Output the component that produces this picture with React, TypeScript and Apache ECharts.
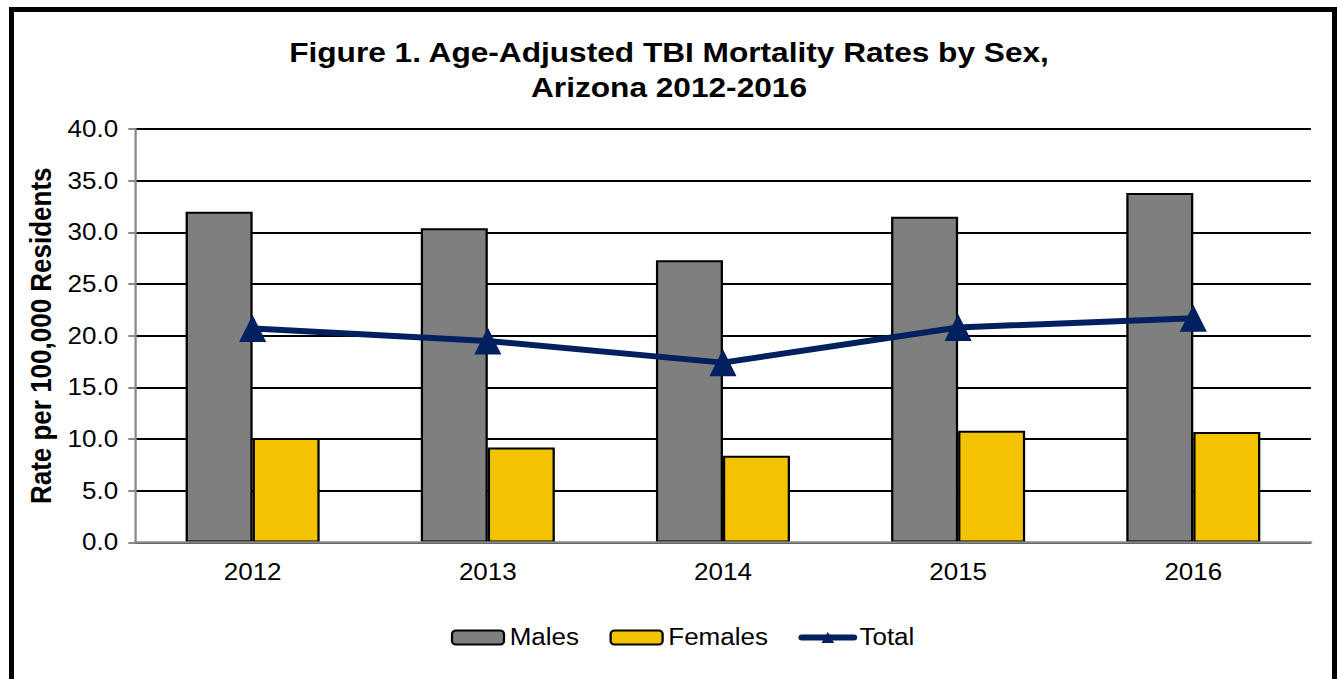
import React, { useEffect, useRef } from "react";
import * as echarts from "echarts";

const years = ["2012", "2013", "2014", "2015", "2016"];
const males = [32.0, 30.4, 27.3, 31.5, 33.8];
const females = [10.1, 9.2, 8.4, 10.8, 10.7];
const total = [20.7, 19.5, 17.4, 20.8, 21.7];

const titleText = "Figure 1. Age-Adjusted TBI Mortality Rates by Sex,\nArizona 2012-2016";
const yAxisName = "Rate per 100,000 Residents";

const BASE_W = 1184;
const H = 679;
const SX = 1338 / BASE_W;
const FONT = "'Liberation Sans', Arial, Helvetica, sans-serif";

export default function App() {
  const ref = useRef<HTMLDivElement>(null);

  useEffect(() => {
    if (!ref.current) return;
    const chart = echarts.init(ref.current, undefined, {
      renderer: "svg",
      width: BASE_W,
      height: H,
    });
    chart.setOption({
      animation: false,
      textStyle: { fontFamily: FONT },
      title: {
        text: titleText,
        left: "center",
        top: 35,
        padding: 0,
        textStyle: {
          fontFamily: FONT,
          fontSize: 28,
          fontWeight: "bold",
          color: "#000",
          lineHeight: 35,
        },
      },
      legend: {
        left: 399,
        top: 626,
        padding: 0,
        itemWidth: 46,
        itemHeight: 14,
        itemGap: 27,
        textStyle: { fontFamily: FONT, fontSize: 23, color: "#000" },
        data: [
          { name: "Males" },
          { name: "Females" },
          { name: "Total", lineStyle: { width: 6, color: "#002060", cap: "round" } },
        ],
      },
      grid: { left: 119.5, right: 24, top: 129, bottom: 136.5, containLabel: false },
      xAxis: {
        type: "category",
        data: years,
        axisLine: { show: true, lineStyle: { color: "#898989", width: 2.5 } },
        axisTick: { show: false },
        axisLabel: { fontFamily: FONT, fontSize: 23, color: "#000", margin: 18 },
        z: 5,
      },
      yAxis: {
        type: "value",
        min: 0,
        max: 40,
        interval: 5,
        name: yAxisName,
        nameLocation: "middle",
        nameGap: 68,
        nameTextStyle: { fontFamily: FONT, fontSize: 26, fontWeight: "bold", color: "#000" },
        axisLine: { show: true, lineStyle: { color: "#898989", width: 2 } },
        axisTick: { show: true, length: 6, lineStyle: { color: "#898989", width: 2 } },
        axisLabel: {
          fontFamily: FONT,
          fontSize: 23,
          color: "#000",
          margin: 15,
          formatter: (v: number) => v.toFixed(1),
        },
        splitLine: { show: true, lineStyle: { color: "#000", width: 2 } },
      },
      series: [
        {
          name: "Males",
          type: "bar",
          data: males,
          barGap: "0%",
          barCategoryGap: "43%",
          itemStyle: { color: "#7f7f7f", borderColor: "#000", borderWidth: 2 },
        },
        {
          name: "Females",
          type: "bar",
          data: females,
          barGap: "0%",
          barCategoryGap: "43%",
          itemStyle: { color: "#f3c300", borderColor: "#000", borderWidth: 2 },
        },
        {
          name: "Total",
          type: "line",
          data: total,
          symbol: "triangle",
          symbolSize: [24, 27],
          lineStyle: { color: "#002060", width: 6 },
          itemStyle: { color: "#002060" },
          z: 10,
        },
      ],
    });
    return () => chart.dispose();
  }, []);

  return (
    <div
      style={{
        position: "fixed",
        left: 0,
        top: 0,
        width: 1338,
        height: 679,
        overflow: "hidden",
        background: "#fff",
      }}
    >
      <div
        ref={ref}
        style={{
          position: "absolute",
          left: 0,
          top: 0,
          width: BASE_W,
          height: H,
          transform: `scaleX(${SX})`,
          transformOrigin: "0 0",
        }}
      />
      <div
        style={{
          position: "absolute",
          left: 9,
          top: 7,
          width: 1328,
          height: 720,
          boxSizing: "border-box",
          border: "5px solid #000",
          pointerEvents: "none",
        }}
      />
    </div>
  );
}
